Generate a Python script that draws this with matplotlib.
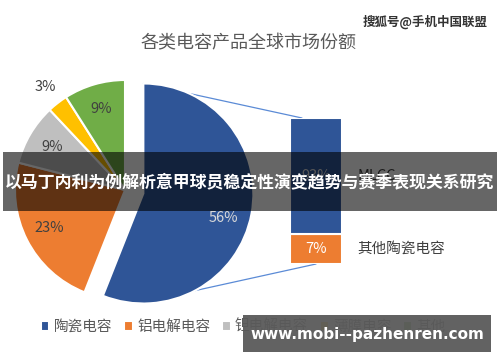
import numpy as np
import matplotlib
matplotlib.use("Agg")
import matplotlib.pyplot as plt
from matplotlib.patches import ConnectionPatch, Rectangle

plt.rcParams['font.family'] = ['Noto Sans CJK SC', 'DejaVu Sans']

title = "各类电容产品全球市场份额"
categories = ['陶瓷电容', '铝电解电容', '钽电解电容', '薄膜电容', '其他']
shares = [56, 23, 9, 3, 9]
colors = ['#2F5597', '#ED7D31', '#BFBFBF', '#FFC000', '#70AD47']
sub_labels = ['MLCC', '其他陶瓷电容']
sub_shares = [93, 7]
sub_colors = ['#2F5597', '#ED7D31']
banner = "以马丁内利为例解析意甲球员稳定性演变趋势与赛季表现关系研究"
watermark = "搜狐号@手机中国联盟"
url = "www.mobi--pazhenren.com"

W, H = 500, 362
fig = plt.figure(figsize=(W / 100, H / 100), dpi=100)

# pie axes: 110 px per unit, centre at (125, 190) px
ax = fig.add_axes([5 / W, (H - 310) / H, 260 / W, 240 / H])
explode = [0.17, 0, 0, 0, 0]
wedges, texts, autotexts = ax.pie(
    shares, colors=colors, startangle=90, counterclock=False, explode=explode,
    autopct=lambda p: f'{p:.0f}%', pctdistance=0.77,
    wedgeprops=dict(edgecolor='white', linewidth=1.5),
    textprops=dict(fontsize=10.5, color='#404040'))
ax.set_xlim(-120 / 110, 140 / 110)
ax.set_ylim(-120 / 110, 120 / 110)
ax.set_aspect('auto')

# big slice label sits a bit lower, small slice label sits outside
c = wedges[0].center
r = wedges[0].r
a0 = np.deg2rad(-17)
autotexts[0].set_position((c[0] + 0.76 * np.cos(a0), c[1] + 0.76 * np.sin(a0)))
autotexts[0].set_color('#D9D9D9')
w = wedges[3]
a = np.deg2rad((w.theta1 + w.theta2) / 2)
autotexts[3].set_position((1.18 * np.cos(a), 1.18 * np.sin(a)))

# bar of the ceramic slice (compressed scale so the small part stays readable)
fwd = lambda y: np.power(np.clip(y, 0, None), 0.6)
inv = lambda y: np.power(np.clip(y, 0, None), 1 / 0.6)
bx = fig.add_axes([290 / W, (H - 264) / H, 52 / W, 146 / H])
bx.set_yscale('function', functions=(fwd, inv))
bottom = 0
for lab, val, col in zip(sub_labels[::-1], sub_shares[::-1], sub_colors[::-1]):
    bx.bar(0, val, width=1, bottom=bottom, color=col, edgecolor='white', linewidth=1.5)
    mid = float(inv((fwd(bottom) + fwd(bottom + val)) / 2))
    tc = 'white' if col == '#ED7D31' else '#D9D9D9'
    bx.text(0, mid, f'{val}%', ha='center', va='center', fontsize=10.5, color=tc)
    bx.text(0.8, mid, lab, ha='left', va='center', fontsize=10.5, color='#404040')
    bottom += val
bx.set_xlim(-0.5, 0.5)
bx.set_ylim(0, 100)
bx.axis('off')

# connector lines
top_pt = (c[0] + r * np.cos(np.deg2rad(90)), c[1] + r * np.sin(np.deg2rad(90)))
bot_pt = (c[0] + r * np.cos(np.deg2rad(-62)), c[1] + r * np.sin(np.deg2rad(-62)))
for p_pie, p_bar in [(top_pt, (-0.27, 100)), (bot_pt, (0.0, 0))]:
    con = ConnectionPatch(xyA=p_pie, coordsA=ax.transData, xyB=p_bar, coordsB=bx.transData,
                          color='#5B8BD6', linewidth=0.9, zorder=0)
    fig.add_artist(con)

fig.text(0.497, (H - 43) / H, title, ha='center', va='center', fontsize=13, color='#595959')
fig.text(0.976, (H - 22) / H, watermark, ha='right', va='center', fontsize=9,
         color='#333333', fontweight='bold')

fig.legend(wedges, categories, loc='center left', bbox_to_anchor=(0.055, (H - 327) / H),
           ncol=5, frameon=False, fontsize=10.5, handlelength=0.6, handleheight=0.6,
           handletextpad=0.3, columnspacing=0.8, labelcolor='#595959')

# overlays
fig.add_artist(Rectangle((3 / W, (H - 211) / H), 494 / W, 59 / H, transform=fig.transFigure,
                         facecolor='black', alpha=0.6, edgecolor='none', zorder=10))
fig.text(0.5, (H - 182) / H, banner, ha='center', va='center', fontsize=12.2,
         color='white', fontweight='bold', zorder=11)
fig.add_artist(Rectangle((243 / W, (H - 352) / H), 248 / W, 37 / H, transform=fig.transFigure,
                         facecolor='#5A5A5A', alpha=0.95, edgecolor='none', zorder=10))
fig.text(367 / W, (H - 334) / H, url, ha='center', va='center', fontsize=11,
         color='white', fontweight='bold', family='DejaVu Sans', zorder=11)

fig.savefig('out.png', dpi=100)
